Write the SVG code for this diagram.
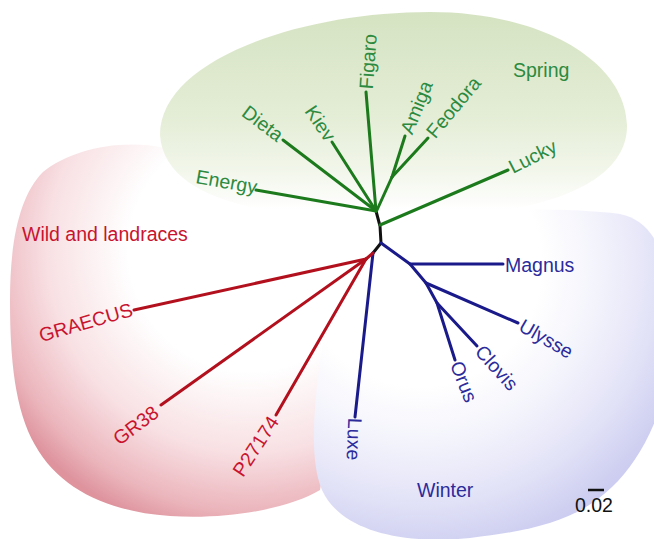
<svg xmlns="http://www.w3.org/2000/svg" width="654" height="539" viewBox="0 0 654 539">
<defs>
<radialGradient id="gRed" gradientUnits="userSpaceOnUse" cx="250" cy="250" r="290">
<stop offset="0" stop-color="#ffffff"/><stop offset="0.42" stop-color="#ffffff"/><stop offset="0.7" stop-color="#f8e0e3"/><stop offset="0.9" stop-color="#ebb5bc"/><stop offset="1" stop-color="#de939d"/>
</radialGradient>
<radialGradient id="gBlue" gradientUnits="userSpaceOnUse" cx="420" cy="265" r="290">
<stop offset="0" stop-color="#ffffff"/><stop offset="0.42" stop-color="#ffffff"/><stop offset="0.62" stop-color="#f3f3fc"/><stop offset="0.8" stop-color="#e4e4f8"/><stop offset="1" stop-color="#cccdf0"/>
</radialGradient>
<linearGradient id="gGreen" gradientUnits="userSpaceOnUse" x1="0" y1="12" x2="0" y2="220">
<stop offset="0" stop-color="#d5e3c2"/><stop offset="0.5" stop-color="#e4edd6"/><stop offset="0.78" stop-color="#f3f7ec"/><stop offset="0.95" stop-color="#ffffff"/>
</linearGradient>
<style>
text{font-family:"Liberation Sans",Arial,sans-serif;font-size:19.5px}
.g{fill:#2c8a40}.r{fill:#c8142e}.b{fill:#2b2b9b}
.lg{stroke:#1c7a1c}.lr{stroke:#b3101e}.lb{stroke:#1a1a8a}.lk{stroke:#111}
#connectors path,#connectors line{fill:none;stroke-width:3;stroke-linecap:round;stroke-linejoin:round}
</style>
</defs>
<rect width="654" height="539" fill="#ffffff"/>
<g id="regions">
<path id="region-wild" d="M165,148 C120,138 70,150 43,172 C20,195 10,240 10,300 C10,360 15,410 35,445 C60,490 110,512 170,516 C230,520 290,508 320,490 L360,260 Z" fill="url(#gRed)"/>
<path id="region-winter" d="M370,216 C450,210 560,206 620,214 C660,222 672,270 672,330 C672,400 645,455 612,487 C580,518 540,530 470,538 C400,545 340,530 322,490 C305,450 318,370 330,300 C340,250 350,220 370,216 Z" fill="url(#gBlue)"/>
<path id="region-spring" d="M160,135 C160,60 300,12 430,12 C540,12 625,60 627,125 C628,185 540,215 420,218 C300,222 165,210 160,135 Z" fill="url(#gGreen)"/>
</g>
<g id="connectors">
<path class="lk" d="M376,211 L380,226 L381,243 L373,253"/>
<line class="lg" x1="376" y1="211" x2="256" y2="190"/>
<line class="lg" x1="376" y1="211" x2="283" y2="140"/>
<line class="lg" x1="376" y1="211" x2="332" y2="142"/>
<line class="lg" x1="376" y1="211" x2="366" y2="92"/>
<line class="lg" x1="377" y1="210" x2="392" y2="177"/>
<line class="lg" x1="392" y1="177" x2="405" y2="136"/>
<line class="lg" x1="392" y1="177" x2="428" y2="138"/>
<line class="lg" x1="380" y1="225" x2="508" y2="170"/>
<path class="lb" d="M381,243 L410,264 L426,283 L437,303 L455,360"/>
<line class="lb" x1="410" y1="264" x2="503" y2="264"/>
<line class="lb" x1="426" y1="283" x2="518" y2="323"/>
<line class="lb" x1="437" y1="303" x2="477" y2="346"/>
<line class="lb" x1="373" y1="253" x2="355" y2="417"/>
<line class="lr" x1="373" y1="253" x2="366" y2="259"/>
<line class="lr" x1="366" y1="259" x2="134" y2="310"/>
<line class="lr" x1="366" y1="259" x2="161" y2="405"/>
<line class="lr" x1="366" y1="259" x2="276" y2="415"/>
</g>
<g id="group-labels">
<g id="label-spring"><text class="g" x="513" y="77">Spring</text></g>
<g id="label-wild"><text class="r" x="22" y="241">Wild and landraces</text></g>
<g id="label-winter"><text class="b" x="417" y="497">Winter</text></g>
</g>
<g id="leaves">
<g id="node-energy"><text class="g" text-anchor="end" dy=".35em" transform="translate(257,187) rotate(10)">Energy</text></g>
<g id="node-dieta"><text class="g" text-anchor="end" dy=".35em" transform="translate(281,137) rotate(37)">Dieta</text></g>
<g id="node-kiev"><text class="g" text-anchor="end" dy=".35em" transform="translate(331,139) rotate(56)">Kiev</text></g>
<g id="node-figaro"><text class="g" dy=".35em" transform="translate(366,89) rotate(-86)">Figaro</text></g>
<g id="node-amiga"><text class="g" dy=".35em" transform="translate(406,133) rotate(-68)">Amiga</text></g>
<g id="node-feodora"><text class="g" dy=".35em" transform="translate(430,135) rotate(-50)">Feodora</text></g>
<g id="node-lucky"><text class="g" dy=".35em" transform="translate(510,168) rotate(-27)">Lucky</text></g>
<g id="node-magnus"><text class="b" dy=".35em" transform="translate(505,265)">Magnus</text></g>
<g id="node-ulysse"><text class="b" dy=".35em" transform="translate(521,324) rotate(30)">Ulysse</text></g>
<g id="node-clovis"><text class="b" dy=".35em" transform="translate(479,348) rotate(48)">Clovis</text></g>
<g id="node-orus"><text class="b" dy=".35em" transform="translate(456,362) rotate(68)">Orus</text></g>
<g id="node-luxe"><text class="b" dy=".35em" transform="translate(355,418) rotate(92)">Luxe</text></g>
<g id="node-graecus"><text class="r" text-anchor="end" dy=".35em" transform="translate(132,309) rotate(-16)">GRAECUS</text></g>
<g id="node-gr38"><text class="r" text-anchor="end" dy=".35em" transform="translate(156,410) rotate(-37)">GR38</text></g>
<g id="node-p27174"><text class="r" text-anchor="end" dy=".35em" transform="translate(274,418) rotate(-57)">P27174</text></g>
</g>
<g id="scale">
<line x1="588" y1="490" x2="604" y2="490" stroke="#111" stroke-width="2.5"/>
<text x="575" y="512" fill="#111">0.02</text>
</g>
</svg>
